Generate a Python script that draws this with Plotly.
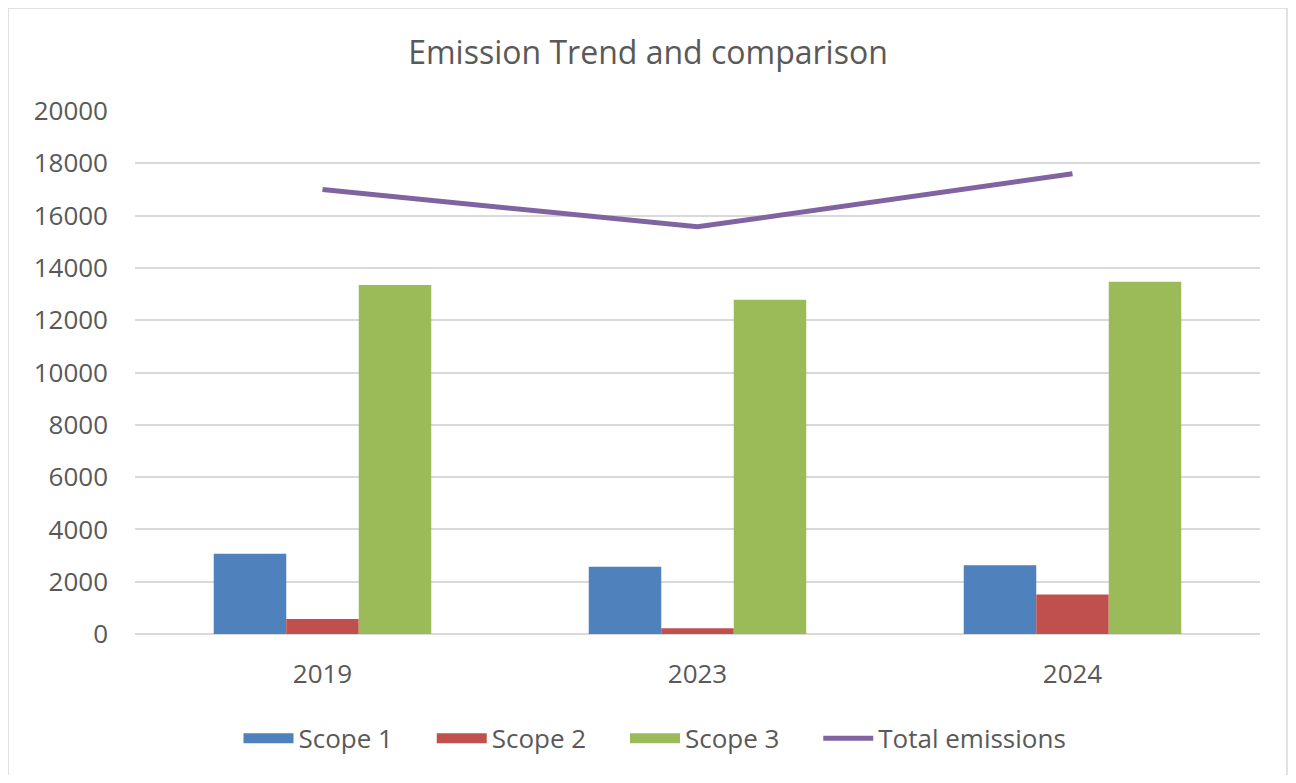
import plotly.graph_objects as go

years = ["2019", "2023", "2024"]
scope1 = [3070, 2570, 2630]
scope2 = [570, 220, 1510]
scope3 = [13350, 12780, 13470]
total = [17000, 15570, 17600]
y_ticks = [0, 2000, 4000, 6000, 8000, 10000, 12000, 14000, 16000, 18000, 20000]

font_fam = "Open Sans, Liberation Sans, sans-serif"
txt = "#595959"
colors = {"Scope 1": "#4F81BD", "Scope 2": "#C0504D", "Scope 3": "#9BBB59"}
pad = "\u00a0" * 5

fig = go.Figure()
for name, vals in [("Scope 1", scope1), ("Scope 2", scope2), ("Scope 3", scope3)]:
    fig.add_bar(x=years, y=vals, name=name, showlegend=False,
                marker=dict(color=colors[name], line=dict(width=0)))
fig.add_scatter(x=years, y=total, name="Total emissions", mode="lines", showlegend=False,
                line=dict(color="#8064A2", width=5))
# legend entries
for name in ["Scope 1", "Scope 2", "Scope 3"]:
    fig.add_scatter(x=[None], y=[None], mode="lines", name=name + pad,
                    line=dict(color=colors[name], width=18))
fig.add_scatter(x=[None], y=[None], mode="lines", name="Total emissions",
                line=dict(color="#8064A2", width=5))

OFF = 8  # page body offset
W, H = 1296 - 2 * OFF, 783 - 2 * OFF
L, T = 135 - OFF, 111 - OFF
R = (OFF + W) - 1260
B = (OFF + H) - 634.5
pw, ph = W - L - R, H - T - B

def py(page_y):
    return 1 - (page_y - OFF - T) / ph

def px(page_x):
    return (page_x - OFF - L) / pw

fig.update_layout(
    width=W, height=H,
    margin=dict(l=L, r=R, t=T, b=B),
    paper_bgcolor="white", plot_bgcolor="white",
    barmode="group", bargap=0.42, bargroupgap=0,
    title=dict(text="Emission Trend and comparison", x=0.5, xanchor="center",
               y=1 - (53 - OFF) / H, yanchor="middle",
               font=dict(family=font_fam, size=32, color=txt)),
    font=dict(family=font_fam, color=txt),
    xaxis=dict(showgrid=False, showline=False, ticks="", tickfont=dict(size=26, color=txt),
               ticklabelstandoff=22),
    yaxis=dict(range=[0, 20000], tickvals=y_ticks, ticktext=[str(v) for v in y_ticks],
               showgrid=True, gridcolor="#d9d9d9",
               gridwidth=1.5, zeroline=True, zerolinecolor="#d9d9d9", zerolinewidth=1.5,
               tickfont=dict(size=26, color=txt), ticklabelstandoff=26),
    legend=dict(orientation="h", x=px(655), xanchor="center", y=py(739),
                yanchor="middle", font=dict(size=26, color=txt), traceorder="normal",
                itemwidth=50),
    shapes=[dict(type="rect", xref="paper", yref="paper",
                 x0=px(8), x1=px(1287), y0=py(778), y1=py(8),
                 line=dict(color="#d9d9d9", width=1.5), fillcolor="rgba(0,0,0,0)",
                 layer="below")],
)

fig.write_html("out.html")
